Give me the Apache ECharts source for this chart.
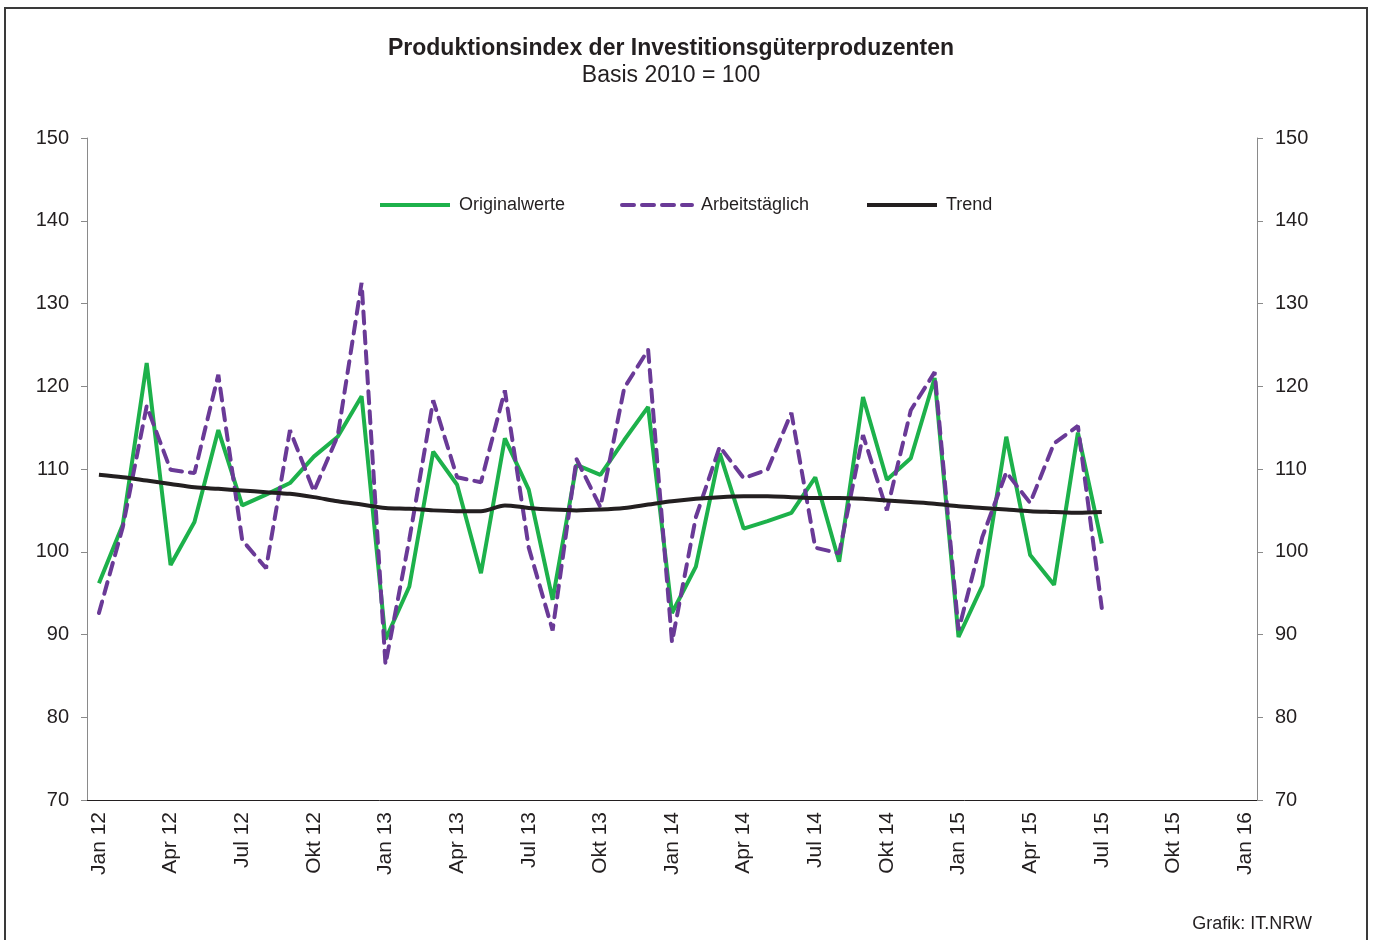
<!DOCTYPE html>
<html>
<head>
<meta charset="utf-8">
<script src="https://cdn.jsdelivr.net/npm/echarts@6/dist/echarts.min.js"></script>
<style>
html,body{margin:0;padding:0;background:#fff;}
#chart{width:1375px;height:940px;}
</style>
</head>
<body>
<div id="chart"></div>
<script>
const categories = [
 'Jan 12','Feb 12','Mrz 12','Apr 12','Mai 12','Jun 12','Jul 12','Aug 12','Sep 12','Okt 12','Nov 12','Dez 12',
 'Jan 13','Feb 13','Mrz 13','Apr 13','Mai 13','Jun 13','Jul 13','Aug 13','Sep 13','Okt 13','Nov 13','Dez 13',
 'Jan 14','Feb 14','Mrz 14','Apr 14','Mai 14','Jun 14','Jul 14','Aug 14','Sep 14','Okt 14','Nov 14','Dez 14',
 'Jan 15','Feb 15','Mrz 15','Apr 15','Mai 15','Jun 15','Jul 15','Aug 15','Sep 15','Okt 15','Nov 15','Dez 15',
 'Jan 16'
];
const originalwerte = [
 96.2,103.3,122.8,98.4,103.6,114.7,105.6,106.9,108.3,111.5,113.9,118.8,
 89.4,95.8,112.1,108.1,97.4,113.7,107.5,94.2,110.5,109.3,113.5,117.5,
 92.6,98.2,111.9,102.8,103.7,104.7,109.0,98.8,118.7,108.7,111.3,121.0,
 89.7,95.9,113.9,99.6,96.0,114.4,101.0
];
const arbeitstaeglich = [
 92.6,103.0,117.6,109.9,109.5,121.4,101.4,98.0,114.7,107.3,114.0,132.5,
 86.4,101.5,118.3,109.0,108.4,119.5,100.5,90.5,111.2,105.4,119.8,124.4,
 89.1,104.2,112.7,108.9,109.9,116.8,100.5,99.8,114.1,105.0,117.1,121.7,
 90.5,101.8,109.6,105.9,113.1,115.2,93.2
];
const trend = [
 109.3,109.0,108.6,108.2,107.8,107.6,107.4,107.2,107.0,106.6,106.1,105.7,
 105.3,105.2,105.0,104.9,104.9,105.6,105.3,105.1,105.0,105.1,105.3,105.7,
 106.1,106.4,106.6,106.7,106.7,106.6,106.5,106.5,106.4,106.2,106.0,105.8,
 105.5,105.3,105.1,104.9,104.8,104.7,104.8
];
const yMin = 70, yMax = 150, yStep = 10;

const chart = echarts.init(document.getElementById('chart'), null, {renderer:'canvas'});
const FONT = '"Liberation Sans", Arial, sans-serif';
const GREEN = '#1db14b', PURPLE = '#6a3a97', BLACK = '#231f20';

function yAxis(pos){
  return {
    type:'value', position:pos, min:yMin, max:yMax, interval:yStep,
    axisLine:{show:true, lineStyle:{color:'#8a8a8a', width:1}},
    axisTick:{show:true, inside:false, length:6, lineStyle:{color:'#8a8a8a'}},
    splitLine:{show:false},
    axisLabel:{color:'#231f20', fontSize:20, fontFamily:FONT, margin:18}
  };
}
function legend(name, left){
  return {
    data:[name], left:left, top:191, itemWidth:70, itemHeight:14, itemGap:0,
    itemStyle:{opacity:0},
    lineStyle:{width:4},
    textStyle:{fontSize:18, fontFamily:FONT, color:'#231f20', padding:[0,0,0,4]},
    selectedMode:false
  };
}

chart.setOption({
  animation:false,
  backgroundColor:'#fff',
  title:[
    {text:'Produktionsindex der Investitionsgüterproduzenten', left:666, textAlign:'center', top:32,
     textStyle:{fontSize:23, fontWeight:'bold', fontFamily:FONT, color:'#231f20'}},
    {text:'Basis 2010 = 100', left:666, textAlign:'center', top:59,
     textStyle:{fontSize:23, fontWeight:'normal', fontFamily:FONT, color:'#231f20'}},
    {text:'Grafik: IT.NRW', right:58, top:910,
     textStyle:{fontSize:18, fontWeight:'normal', fontFamily:FONT, color:'#231f20'}}
  ],
  legend:[legend('Originalwerte',373), legend('Arbeitstäglich',615), legend('Trend',860)],
  grid:{left:87, right:118, top:138, bottom:140},
  xAxis:{
    type:'category', data:categories, boundaryGap:true,
    axisLine:{show:true, lineStyle:{color:'#231f20', width:1}},
    axisTick:{show:false},
    axisLabel:{interval:2, rotate:90, color:'#231f20', fontSize:21, fontFamily:FONT, margin:12}
  },
  yAxis:[yAxis('left'), yAxis('right')],
  graphic:[{type:'rect', shape:{x:5,y:8,width:1362,height:960}, style:{fill:null, stroke:'#3a3a3a', lineWidth:2}, silent:true}],
  series:[
    {name:'Originalwerte', type:'line', data:originalwerte, symbol:'none', z:3,
     lineStyle:{color:GREEN, width:4}, itemStyle:{color:GREEN}},
    {name:'Arbeitstäglich', type:'line', data:arbeitstaeglich, symbol:'none', z:4,
     lineStyle:{color:PURPLE, width:4, type:[12,8], cap:'round'}, itemStyle:{color:PURPLE}},
    {name:'Trend', type:'line', data:trend, symbol:'none', z:5, smooth:0.3,
     lineStyle:{color:BLACK, width:4}, itemStyle:{color:BLACK}}
  ]
});
</script>
</body>
</html>
